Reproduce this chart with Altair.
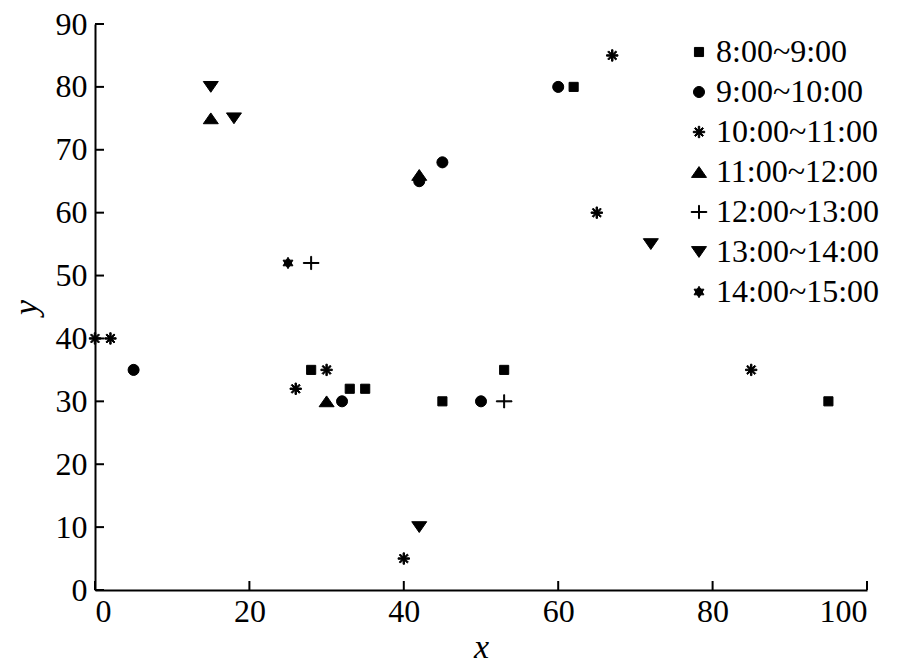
import altair as alt
import pandas as pd

series = ["8:00~9:00", "9:00~10:00", "10:00~11:00", "11:00~12:00",
          "12:00~13:00", "13:00~14:00", "14:00~15:00"]

x_s1 = [28, 33, 35, 45, 53, 62, 95]
y_s1 = [35, 32, 32, 30, 35, 80, 30]
x_s2 = [5, 32, 42, 45, 50, 60]
y_s2 = [35, 30, 65, 68, 30, 80]
x_s3 = [0, 2, 26, 30, 40, 65, 67, 85]
y_s3 = [40, 40, 32, 35, 5, 60, 85, 35]
x_s4 = [15, 30, 42]
y_s4 = [75, 30, 66]
x_s5 = [28, 53]
y_s5 = [52, 30]
x_s6 = [15, 18, 42, 72]
y_s6 = [80, 75, 10, 55]
x_s7 = [25]
y_s7 = [52]

xs = [x_s1, x_s2, x_s3, x_s4, x_s5, x_s6, x_s7]
ys = [y_s1, y_s2, y_s3, y_s4, y_s5, y_s6, y_s7]

x_ticks = [0, 20, 40, 60, 80, 100]
y_ticks = [0, 10, 20, 30, 40, 50, 60, 70, 80, 90]

rows = []
for name, xv, yv in zip(series, xs, ys):
    for a, b in zip(xv, yv):
        rows.append({"x": a, "y": b, "series": name})
df = pd.DataFrame(rows)

asterisk = ("M-0.95,-0.12H0.95V0.12H-0.95Z"
            "M0.12,-0.95V0.95H-0.12V-0.95Z"
            "M0.585,0.755L-0.755,-0.585L-0.585,-0.755L0.755,0.585Z"
            "M-0.585,0.755L-0.755,0.585L0.585,-0.755L0.755,-0.585Z")
plus = ("M-1.3,-0.08H1.3V0.08H-1.3Z"
        "M0.08,-1.1V1.1H-0.08V-1.1Z")

shapes = [
    "M-0.76,-0.76H0.76V0.76H-0.76Z",
    "M-0.92,0A0.92,0.92,0,1,0,0.92,0A0.92,0.92,0,1,0,-0.92,0Z",
    asterisk,
    "M0,-0.9L1.25,0.9L-1.25,0.9Z",
    plus,
    "M0,0.9L1.25,-0.9L-1.25,-0.9Z",
    "M0,-0.95L0.82,0.47L-0.82,0.47ZM0,0.95L-0.82,-0.47L0.82,-0.47Z",
]
blacks = ["black"] * len(series)

W, H = 772, 566
FONT = "Liberation Serif"

xscale = alt.Scale(domain=[0, 100], nice=False, zero=False)
yscale = alt.Scale(domain=[0, 90], nice=False, zero=False)


def leg():
    return alt.Legend(title=None, orient="none", legendX=588,
                      legendY=12, padding=0, rowPadding=8,
                      labelFont=FONT, labelFontSize=32,
                      labelColor="black", labelOffset=1,
                      labelLimit=0, symbolSize=144,
                      symbolStrokeWidth=1, symbolOpacity=1)


points = alt.Chart(df).mark_point(
    filled=False, size=144, strokeWidth=1, strokeJoin="round",
    opacity=1, fillOpacity=1, strokeOpacity=1
).encode(
    x=alt.X("x:Q", scale=xscale, title="x",
            axis=alt.Axis(values=x_ticks, ticks=False, labelPadding=6,
                          titlePadding=3)),
    y=alt.Y("y:Q", scale=yscale, title="y",
            axis=alt.Axis(values=y_ticks, ticks=False, labelPadding=8,
                          titlePadding=12)),
    shape=alt.Shape("series:N", scale=alt.Scale(domain=series, range=shapes),
                    legend=leg()),
    stroke=alt.Stroke("series:N", scale=alt.Scale(domain=series, range=blacks),
                      legend=leg()),
    fill=alt.Fill("series:N", scale=alt.Scale(domain=series, range=blacks),
                  legend=leg()),
)

ytick_df = pd.DataFrame({"v": y_ticks})
xtick_df = pd.DataFrame({"v": x_ticks})

yt = alt.Chart(ytick_df).mark_rule(color="black", strokeWidth=2).encode(
    y=alt.Y("v:Q", scale=yscale), x=alt.value(0), x2=alt.value(9))
xt = alt.Chart(xtick_df).mark_rule(color="black", strokeWidth=2).encode(
    x=alt.X("v:Q", scale=xscale), y=alt.value(H), y2=alt.value(H - 9))

chart = alt.layer(yt, xt, points).properties(
    width=W, height=H,
    autosize=alt.AutoSizeParams(type="none"),
    padding={"left": 87, "top": 16, "right": 20, "bottom": 72},
).configure_view(stroke=None).configure_axis(
    domainColor="black", domainWidth=2, grid=False,
    labelFont=FONT, labelFontSize=32, labelColor="black",
    titleFont=FONT, titleFontSize=34, titleFontStyle="italic",
    titleFontWeight="normal", titleColor="black",
)

chart.save("out.html", embed_options={"renderer": "svg", "actions": False})
